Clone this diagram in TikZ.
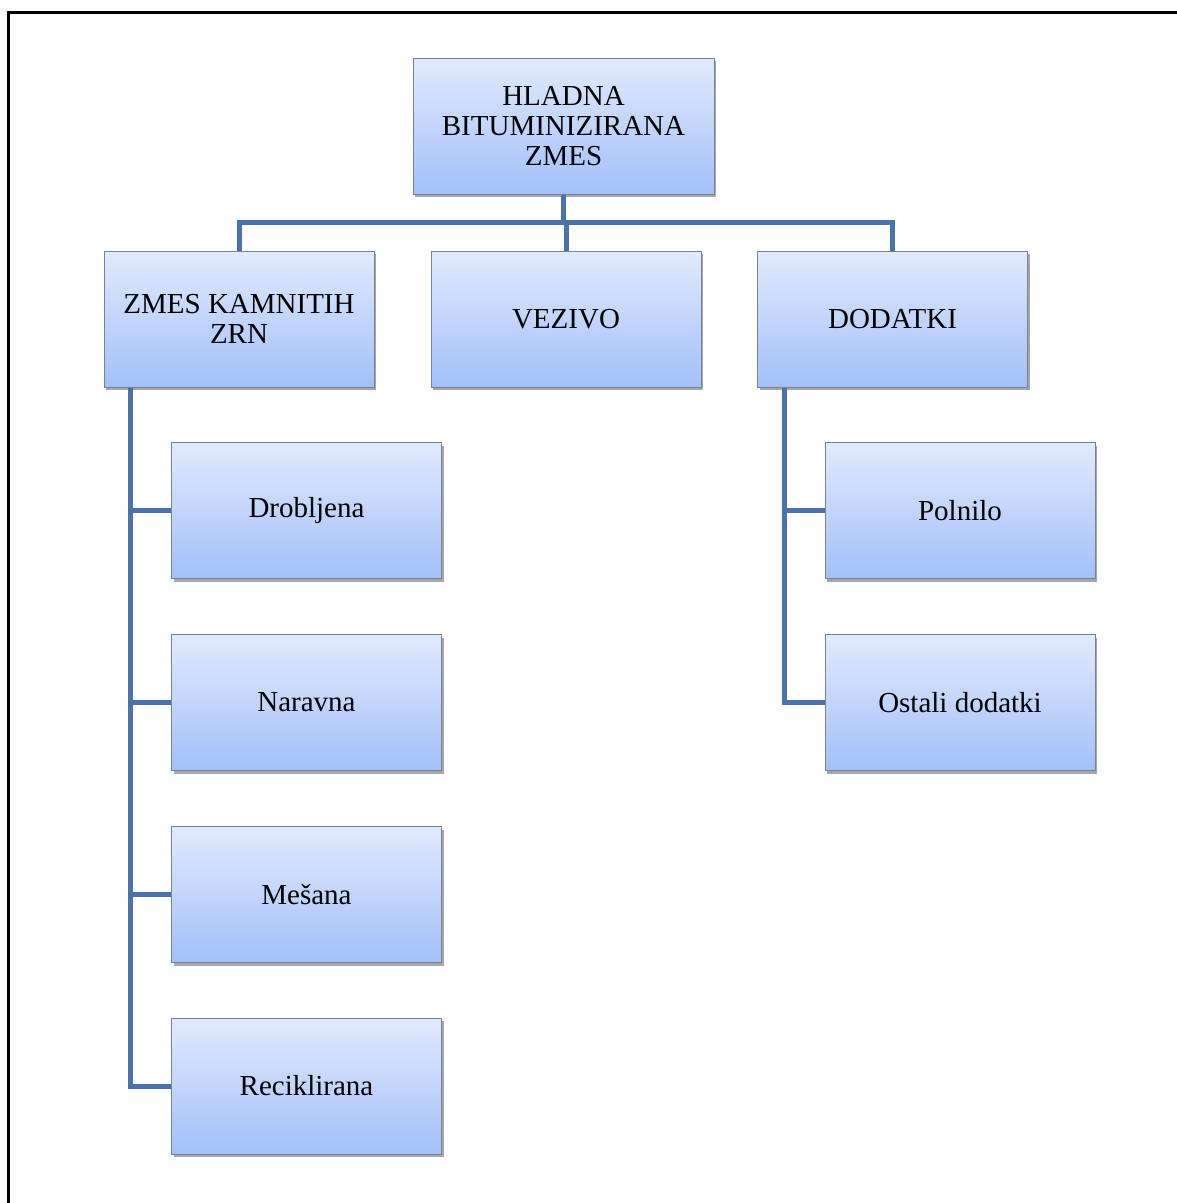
\documentclass[tikz,border=0pt]{standalone}
\usepackage{fontspec}
\setmainfont{Liberation Serif}
\usetikzlibrary{shadows}
\definecolor{boxtop}{HTML}{E1EAFD}
\definecolor{boxbot}{HTML}{A2C0F9}
\definecolor{boxline}{HTML}{74829A}
\definecolor{conn}{HTML}{4A73AA}
\tikzset{
  cbox/.style={draw=boxline, line width=1pt, top color=boxtop, bottom color=boxbot,
    minimum width=270pt, minimum height=136pt, inner sep=2pt, align=center,
    font=\fontsize{29}{30}\selectfont,
    drop shadow={shadow xshift=2pt, shadow yshift=-3pt, opacity=0.35, fill=black}},
  link/.style={draw=conn, line width=5pt},
}
\begin{document}
\begin{tikzpicture}[x=1pt,y=-1pt]
\useasboundingbox (0,0) rectangle (1177,1203);
\draw[line width=3pt] (8,1205) -- (8,12) -- (1179,12);
% top
\node[cbox, minimum width=301pt] (root) at (563.5,126) {HLADNA\\BITUMINIZIRANA\\ZMES};
\node[cbox] (zrn) at (239,319) {ZMES KAMNITIH\\ZRN};
\node[cbox] (vez) at (566,319) {VEZIVO};
\node[cbox] (dod) at (892.5,319) {DODATKI};
\node[cbox] (d1) at (306.5,510.5) {Drobljena};
\node[cbox] (d2) at (306.5,702.5) {Naravna};
\node[cbox] (d3) at (306.5,894.5) {Mešana};
\node[cbox] (d4) at (306.5,1086) {Reciklirana};
\node[cbox] (p1) at (960,510.5) {Polnilo};
\node[cbox] (p2) at (960,702.5) {Ostali dodatki};
\coordinate (bus) at (563.5,222);
\coordinate (lt) at (130,387);
\coordinate (rt) at (784,387);
% connectors
\draw[link] (root.south) -- (bus);
\draw[link] (zrn.north) |- (bus) -| (dod.north);
\draw[link] (bus -| vez.north) -- (vez.north);
\draw[link] (lt |- zrn.south) |- (d4.west);
\draw[link] (lt |- d1.west) -- (d1.west);
\draw[link] (lt |- d2.west) -- (d2.west);
\draw[link] (lt |- d3.west) -- (d3.west);
\draw[link] (rt |- dod.south) |- (p2.west);
\draw[link] (rt |- p1.west) -- (p1.west);
\end{tikzpicture}
\end{document}
